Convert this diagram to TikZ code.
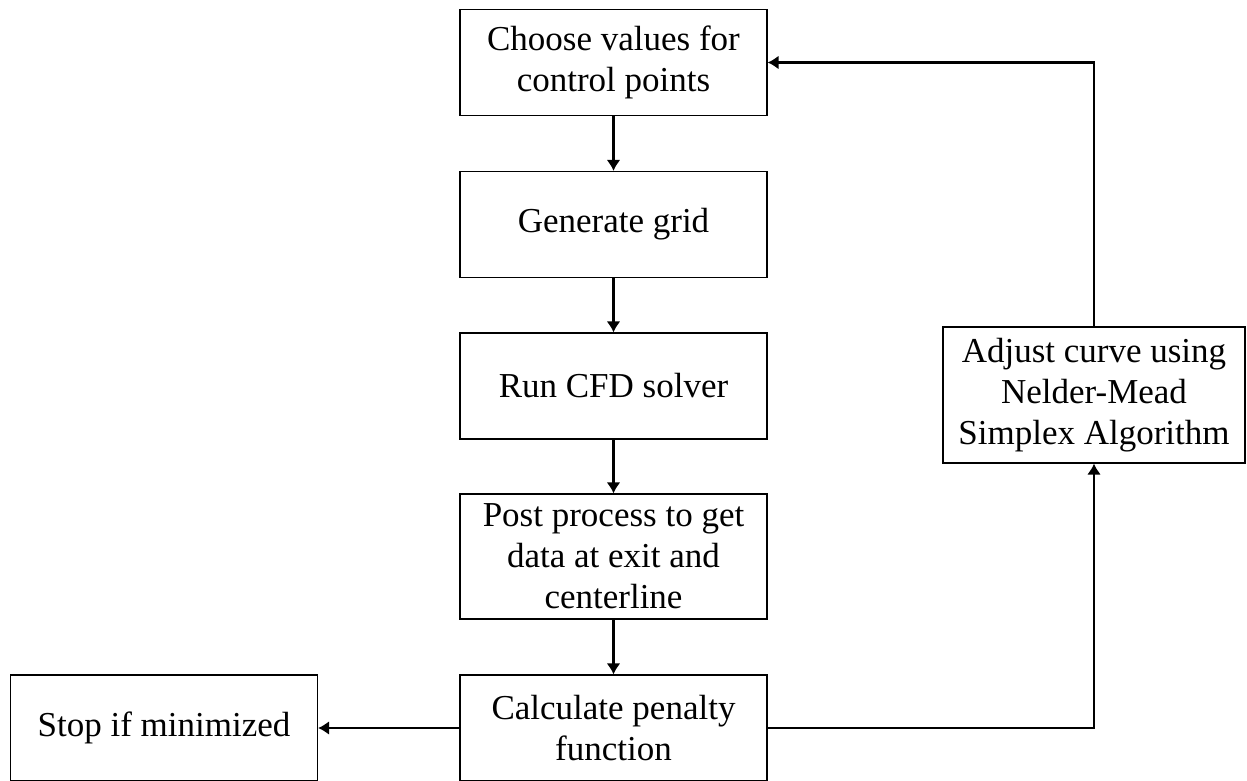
\documentclass[tikz,border=0pt]{standalone}
\usepackage{fontspec}
\setmainfont{Liberation Serif}
\usetikzlibrary{arrows.meta}

\begin{document}
\begin{tikzpicture}[x=0.5pt,y=-0.5pt,->,>={Latex[length=5.5pt,width=7pt]},line width=1.2pt,
box/.style={draw,line width=0.6pt,align=center,inner sep=2pt,minimum width=153.5pt,minimum height=53pt,font=\fontsize{17.5}{20.5}\selectfont}]

\useasboundingbox (0,0) rectangle (1247,781);

\node[box] (choose) at (613.5,62.5) {Choose values for\\control points};
\node[box] (grid) at (613.5,224.5) {Generate grid};
\node[box] (cfd) at (613.5,386) {Run CFD solver};
\node[box, minimum height=62.5pt] (post) at (613.5,556.5) {Post process to get\\data at exit and\\centerline};
\node[box] (calc) at (613.5,728) {Calculate penalty\\function};
\node[box] (stop) at (164,728) {Stop if minimized};
\node[box, minimum width=151pt, minimum height=68pt] (adjust) at (1094,395) {Adjust curve using\\Nelder-Mead\\Simplex Algorithm};

\path (choose) edge (grid)
(grid) edge (cfd)
(cfd) edge (post)
(post) edge (calc)
(calc) edge (stop);

% loop back through the simplex step
\draw (calc.east) -| (adjust.south);
\draw (adjust.north) |- (choose.east);
\end{tikzpicture}
\end{document}
